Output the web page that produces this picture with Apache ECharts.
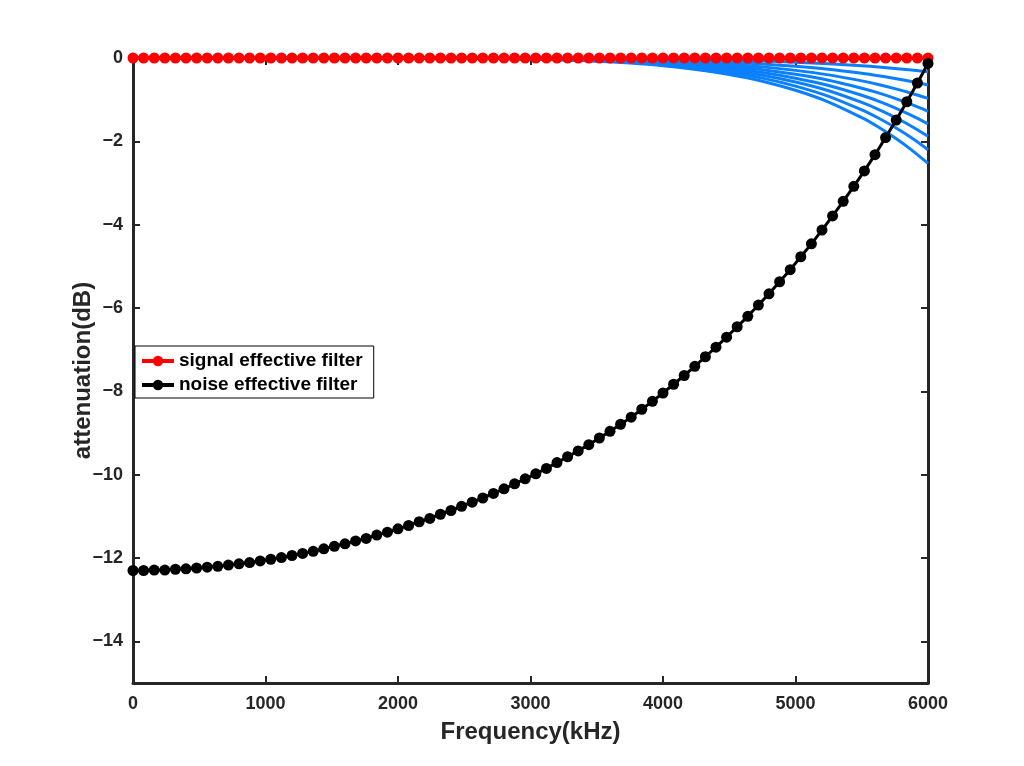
<!DOCTYPE html>
<html>
<head>
<meta charset="utf-8">
<script src="https://cdn.jsdelivr.net/npm/echarts@6/dist/echarts.min.js"></script>
<style>
html,body{margin:0;padding:0;background:#fff;}
#chart{width:1024px;height:766px;}
</style>
</head>
<body>
<div id="chart"></div>
<script>
// ---- data ----
const freq = [0,80,160,240,320,400,480,560,640,720,800,880,960,1040,1120,1200,1280,1360,1440,1520,
  1600,1680,1760,1840,1920,2000,2080,2160,2240,2320,2400,2480,2560,2640,2720,2800,2880,2960,3040,3120,
  3200,3280,3360,3440,3520,3600,3680,3760,3840,3920,4000,4080,4160,4240,4320,4400,4480,4560,4640,4720,
  4800,4880,4960,5040,5120,5200,5280,5360,5440,5520,5600,5680,5760,5840,5920,6000];
const signalFilter = [0,0,0,0,0,0,0,0,0,0,0,0,0,0,0,0,0,0,0,0,
  0,0,0,0,0,0,0,0,0,0,0,0,0,0,0,0,0,0,0,0,
  0,0,0,0,0,0,0,0,0,0,0,0,0,0,0,0,0,0,0,0,
  0,0,0,0,0,0,0,0,0,0,0,0,0,0,0,0];
const noiseFilter = [-12.30,-12.30,-12.29,-12.29,-12.27,-12.26,-12.24,-12.22,-12.20,-12.17,
  -12.14,-12.11,-12.07,-12.03,-11.99,-11.94,-11.89,-11.84,-11.78,-11.72,
  -11.66,-11.59,-11.53,-11.45,-11.38,-11.30,-11.22,-11.13,-11.05,-10.95,
  -10.86,-10.76,-10.66,-10.56,-10.45,-10.34,-10.22,-10.10,-9.98,-9.85,
  -9.71,-9.57,-9.43,-9.28,-9.12,-8.96,-8.79,-8.62,-8.43,-8.24,
  -8.04,-7.83,-7.62,-7.40,-7.17,-6.94,-6.70,-6.45,-6.20,-5.93,
  -5.66,-5.37,-5.08,-4.77,-4.46,-4.13,-3.79,-3.44,-3.08,-2.71,
  -2.32,-1.91,-1.49,-1.05,-0.60,-0.13];
const blueFreq = [0,1000,2000,2500,3000,3250,3500,3750,4000,4250,4500,4750,5000,5250,5500,5625,5750,5875,6000];
const blue1 = [0,0,0,-0.001,-0.003,-0.006,-0.010,-0.016,-0.024,-0.036,-0.051,-0.073,-0.101,-0.138,-0.187,-0.216,-0.250,-0.287,-0.33];
const blue2 = [0,0,-0.001,-0.002,-0.007,-0.012,-0.020,-0.032,-0.048,-0.071,-0.101,-0.143,-0.199,-0.272,-0.368,-0.426,-0.492,-0.566,-0.65];
const blue3 = [0,0,-0.001,-0.003,-0.011,-0.018,-0.030,-0.047,-0.071,-0.105,-0.151,-0.213,-0.297,-0.405,-0.549,-0.635,-0.734,-0.845,-0.97];
const blue4 = [0,0,-0.001,-0.004,-0.014,-0.024,-0.039,-0.062,-0.094,-0.139,-0.199,-0.281,-0.392,-0.535,-0.725,-0.838,-0.968,-1.115,-1.28];
const blue5 = [0,0,-0.001,-0.005,-0.018,-0.029,-0.048,-0.077,-0.116,-0.171,-0.246,-0.347,-0.484,-0.660,-0.895,-1.035,-1.195,-1.376,-1.58];
const blue6 = [0,0,-0.001,-0.006,-0.021,-0.035,-0.058,-0.091,-0.138,-0.204,-0.293,-0.413,-0.576,-0.785,-1.065,-1.231,-1.422,-1.637,-1.88];
const blue7 = [0,0,-0.002,-0.007,-0.025,-0.041,-0.067,-0.107,-0.161,-0.238,-0.343,-0.483,-0.674,-0.919,-1.246,-1.441,-1.664,-1.916,-2.20];
const blue8 = [0,0,-0.002,-0.008,-0.029,-0.047,-0.077,-0.123,-0.185,-0.274,-0.394,-0.556,-0.775,-1.057,-1.433,-1.657,-1.914,-2.204,-2.53];
const blueCurves = [blue1,blue2,blue3,blue4,blue5,blue6,blue7,blue8];
const yTicks = [-14,-12,-10,-8,-6,-4,-2,0];
const xTitle = 'Frequency(kHz)';
const yTitle = 'attenuation(dB)';
const legendNames = ['signal effective filter','noise effective filter'];

// ---- chart ----
const FONT = "'Liberation Sans', Arial, Helvetica, sans-serif";
const AX = '#262626';
const pairs = (xs, ys) => xs.map((x, i) => [x, ys[i]]);

const series = [];
blueCurves.forEach((c, k) => {
  series.push({
    name: 'blue' + k, type: 'line', data: pairs(blueFreq, c),
    smooth: 0.3, showSymbol: false, symbol: 'none',
    lineStyle: { color: '#0a80ff', width: 3 }, z: 2, clip: false, silent: true
  });
});
series.push({
  name: legendNames[0], type: 'line', data: pairs(freq, signalFilter),
  symbol: 'circle', symbolSize: 11, itemStyle: { color: '#ff0000' },
  lineStyle: { color: '#ff0000', width: 3 }, z: 3, clip: false
});
series.push({
  name: legendNames[1], type: 'line', data: pairs(freq, noiseFilter),
  symbol: 'circle', symbolSize: 11, itemStyle: { color: '#000000' },
  lineStyle: { color: '#000000', width: 3 }, z: 4, clip: false
});

const plainLabel = v => String(v).replace('-', '\u2212');

const chart = echarts.init(document.getElementById('chart'), null, { renderer: 'canvas' });
chart.setOption({
  animation: false,
  backgroundColor: '#ffffff',
  grid: { left: 133, right: 96, top: 58, bottom: 83, containLabel: false },
  legend: {
    data: legendNames, orient: 'vertical', left: 135, top: 346,
    backgroundColor: '#ffffff', borderColor: '#000000', borderWidth: 1,
    padding: [5, 11, 3, 5], itemGap: 4, itemWidth: 32, itemHeight: 13,
    lineStyle: { width: 4 },
    textStyle: { fontFamily: FONT, fontWeight: 'bold', fontSize: 19, color: '#000', lineHeight: 20 }
  },
  xAxis: [{
    type: 'value', position: 'bottom', min: 0, max: 6000, interval: 1000,
    name: xTitle, nameLocation: 'middle', nameGap: 37,
    nameTextStyle: { fontFamily: FONT, fontWeight: 'bold', fontSize: 24, color: AX },
    axisLine: { show: true, onZero: false, lineStyle: { color: AX, width: 3 } },
    axisTick: { show: true, inside: true, length: 7, lineStyle: { color: AX, width: 2 } },
    axisLabel: { fontFamily: FONT, fontWeight: 'bold', fontSize: 18, color: AX, margin: 12, formatter: plainLabel },
    splitLine: { show: false }
  }, {
    type: 'value', position: 'top', min: 0, max: 6000, interval: 1000,
    axisLine: { show: true, onZero: false, lineStyle: { color: AX, width: 3 } },
    axisTick: { show: true, inside: true, length: 7, lineStyle: { color: AX, width: 2 } },
    axisLabel: { show: false }, splitLine: { show: false }
  }],
  yAxis: [{
    type: 'value', position: 'left', min: -15, max: 0,
    name: yTitle, nameLocation: 'middle', nameGap: 38, nameMoveOverlap: false,
    nameTextStyle: { fontFamily: FONT, fontWeight: 'bold', fontSize: 24, color: AX },
    axisLine: { show: true, onZero: false, lineStyle: { color: AX, width: 3 } },
    axisTick: { show: true, inside: true, length: 7, customValues: yTicks, lineStyle: { color: AX, width: 2 } },
    axisLabel: { fontFamily: FONT, fontWeight: 'bold', fontSize: 18, color: AX, margin: 10, customValues: yTicks, formatter: plainLabel },
    splitLine: { show: false }
  }, {
    type: 'value', position: 'right', min: -15, max: 0,
    axisLine: { show: true, onZero: false, lineStyle: { color: AX, width: 3 } },
    axisTick: { show: true, inside: true, length: 7, customValues: yTicks, lineStyle: { color: AX, width: 2 } },
    axisLabel: { show: false }, splitLine: { show: false }
  }],
  series: series
});
</script>
</body>
</html>
